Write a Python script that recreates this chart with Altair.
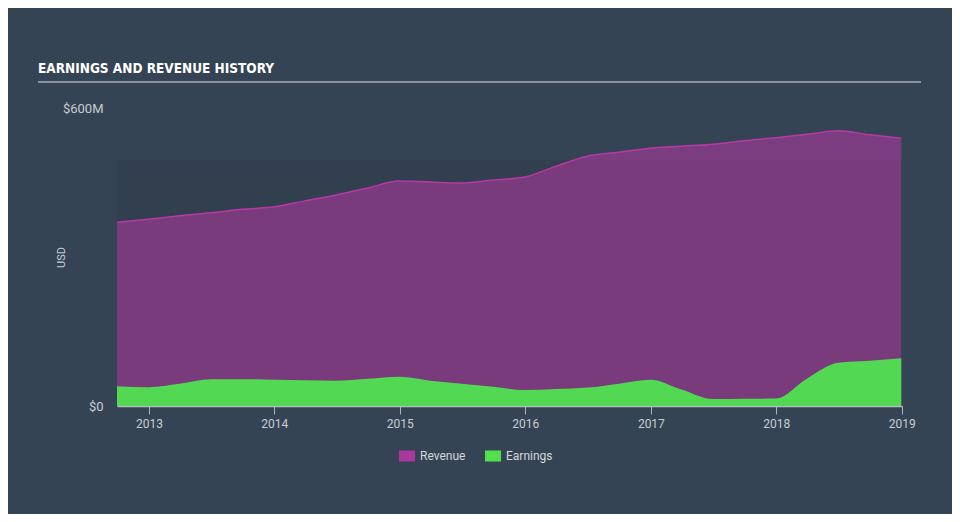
import altair as alt
import pandas as pd

# Quarter-end dates
dates = [
    "2012-09-30", "2012-12-31", "2013-03-31", "2013-06-30", "2013-09-30",
    "2013-12-31", "2014-03-31", "2014-06-30", "2014-09-30", "2014-12-31",
    "2015-03-31", "2015-06-30", "2015-09-30", "2015-12-31", "2016-03-31",
    "2016-06-30", "2016-09-30", "2016-12-31", "2017-03-31", "2017-06-30",
    "2017-09-30", "2017-12-31", "2018-03-31", "2018-06-30", "2018-09-30",
    "2018-12-31",
]
# Values in $M
revenue = [370, 376, 383, 389, 396, 401, 413, 425, 439, 453, 451, 449, 455,
           461, 483, 503, 511, 519, 523, 527, 534, 540, 547, 554, 546, 539]
earnings = [40, 38, 45, 54, 54, 53, 52, 51, 55, 59, 51, 45, 39, 32, 34, 37,
            45, 53, 33, 14, 14.5, 15, 55, 87, 91, 96]

series_names = ["Revenue", "Earnings"]
legend_colors = ["#a8389a", "#50e050"]
y_ticks = [0, 600]
band = {"start": "2012-09-30", "end": "2019-01-02", "low": 0, "high": 495}
title_text = "EARNINGS AND REVENUE HISTORY"

rev_df = pd.DataFrame({"date": dates, "value": revenue, "series": "Revenue"})
earn_df = pd.DataFrame({"date": dates, "value": earnings, "series": "Earnings"})
band_df = pd.DataFrame([band])
title_df = pd.DataFrame({"t": [title_text]})

x_scale = alt.Scale(domain=["2012-09-30", "2019-01-02"])
y_scale = alt.Scale(domain=[0, 600], nice=False)
color_scale = alt.Scale(domain=series_names, range=legend_colors)

FONT = "Roboto"

x_axis = alt.Axis(
    format="%Y", tickCount={"interval": "year", "step": 1},
    labelColor="#c9cdd2", labelFontSize=12, labelFont=FONT, labelPadding=4,
    tickColor="#aeb4ba", tickSize=8, domainColor="#b8bec4", domainWidth=1.5,
    grid=False, title=None, labelFlush=False,
)
y_axis = alt.Axis(
    values=y_ticks,
    labelExpr="datum.value == 0 ? '$0' : '$' + datum.value + 'M'",
    labelColor="#c9cdd2", labelFontSize=13, labelFont=FONT, labelPadding=14,
    ticks=False, domain=False, grid=False,
    title="USD", titleColor="#c9cdd2", titleFontSize=11, titleFont=FONT,
    titleFontWeight="normal", titleX=-51, titleY=149, titleAngle=-90,
)

band_layer = alt.Chart(band_df).mark_rect(color="#2c3a47", opacity=0.4).encode(
    x=alt.X("start:T", scale=x_scale, axis=x_axis),
    x2="end:T",
    y=alt.Y("low:Q", scale=y_scale, axis=y_axis),
    y2="high:Q",
)

rev_area = alt.Chart(rev_df).mark_area(interpolate="monotone", fillOpacity=0.62).encode(
    x=alt.X("date:T", scale=x_scale, axis=x_axis),
    y=alt.Y("value:Q", scale=y_scale, axis=y_axis, stack=None),
    color=alt.Color("series:N", scale=color_scale, title=None,
                    legend=alt.Legend(
                        orient="none", legendX=282, legendY=340,
                        direction="horizontal",
                        symbolType="M-1,-0.69L1,-0.69L1,0.69L-1,0.69Z",
                        symbolSize=256, symbolOpacity=1, symbolStrokeWidth=0,
                        labelColor="#d4d8dc", labelFontSize=12, labelFont=FONT,
                        labelOffset=5, columnPadding=19,
                    )),
)

rev_line = alt.Chart(rev_df).mark_line(
    interpolate="monotone", color="#b53aa6", strokeWidth=1.5
).encode(
    x=alt.X("date:T", scale=x_scale),
    y=alt.Y("value:Q", scale=y_scale),
)

earn_area = alt.Chart(earn_df).mark_area(interpolate="monotone", fillOpacity=0.95).encode(
    x=alt.X("date:T", scale=x_scale),
    y=alt.Y("value:Q", scale=y_scale, stack=None),
    color=alt.Color("series:N", scale=color_scale),
)

title_layer = alt.Chart(title_df).mark_text(
    align="left", baseline="alphabetic", color="#ffffff",
    font="DejaVu Sans Condensed", fontWeight="bold", fontSize=13.5,
).encode(
    text="t:N", x=alt.value(-79), y=alt.value(-35),
)

underline = alt.Chart(title_df).mark_rule(color="#a9aeb4", strokeWidth=1.5).encode(
    x=alt.value(-79), x2=alt.value(804), y=alt.value(-26),
)

chart = alt.layer(
    band_layer, rev_area, rev_line, earn_area, title_layer, underline
).properties(
    width=785, height=298,
    background="#344454",
    padding={"left": 109, "top": 100, "right": 50, "bottom": 108},
    autosize=alt.AutoSizeParams(type="none"),
).configure_view(stroke=None)

chart.save("out.html", embed_options={"renderer": "svg", "actions": False})
